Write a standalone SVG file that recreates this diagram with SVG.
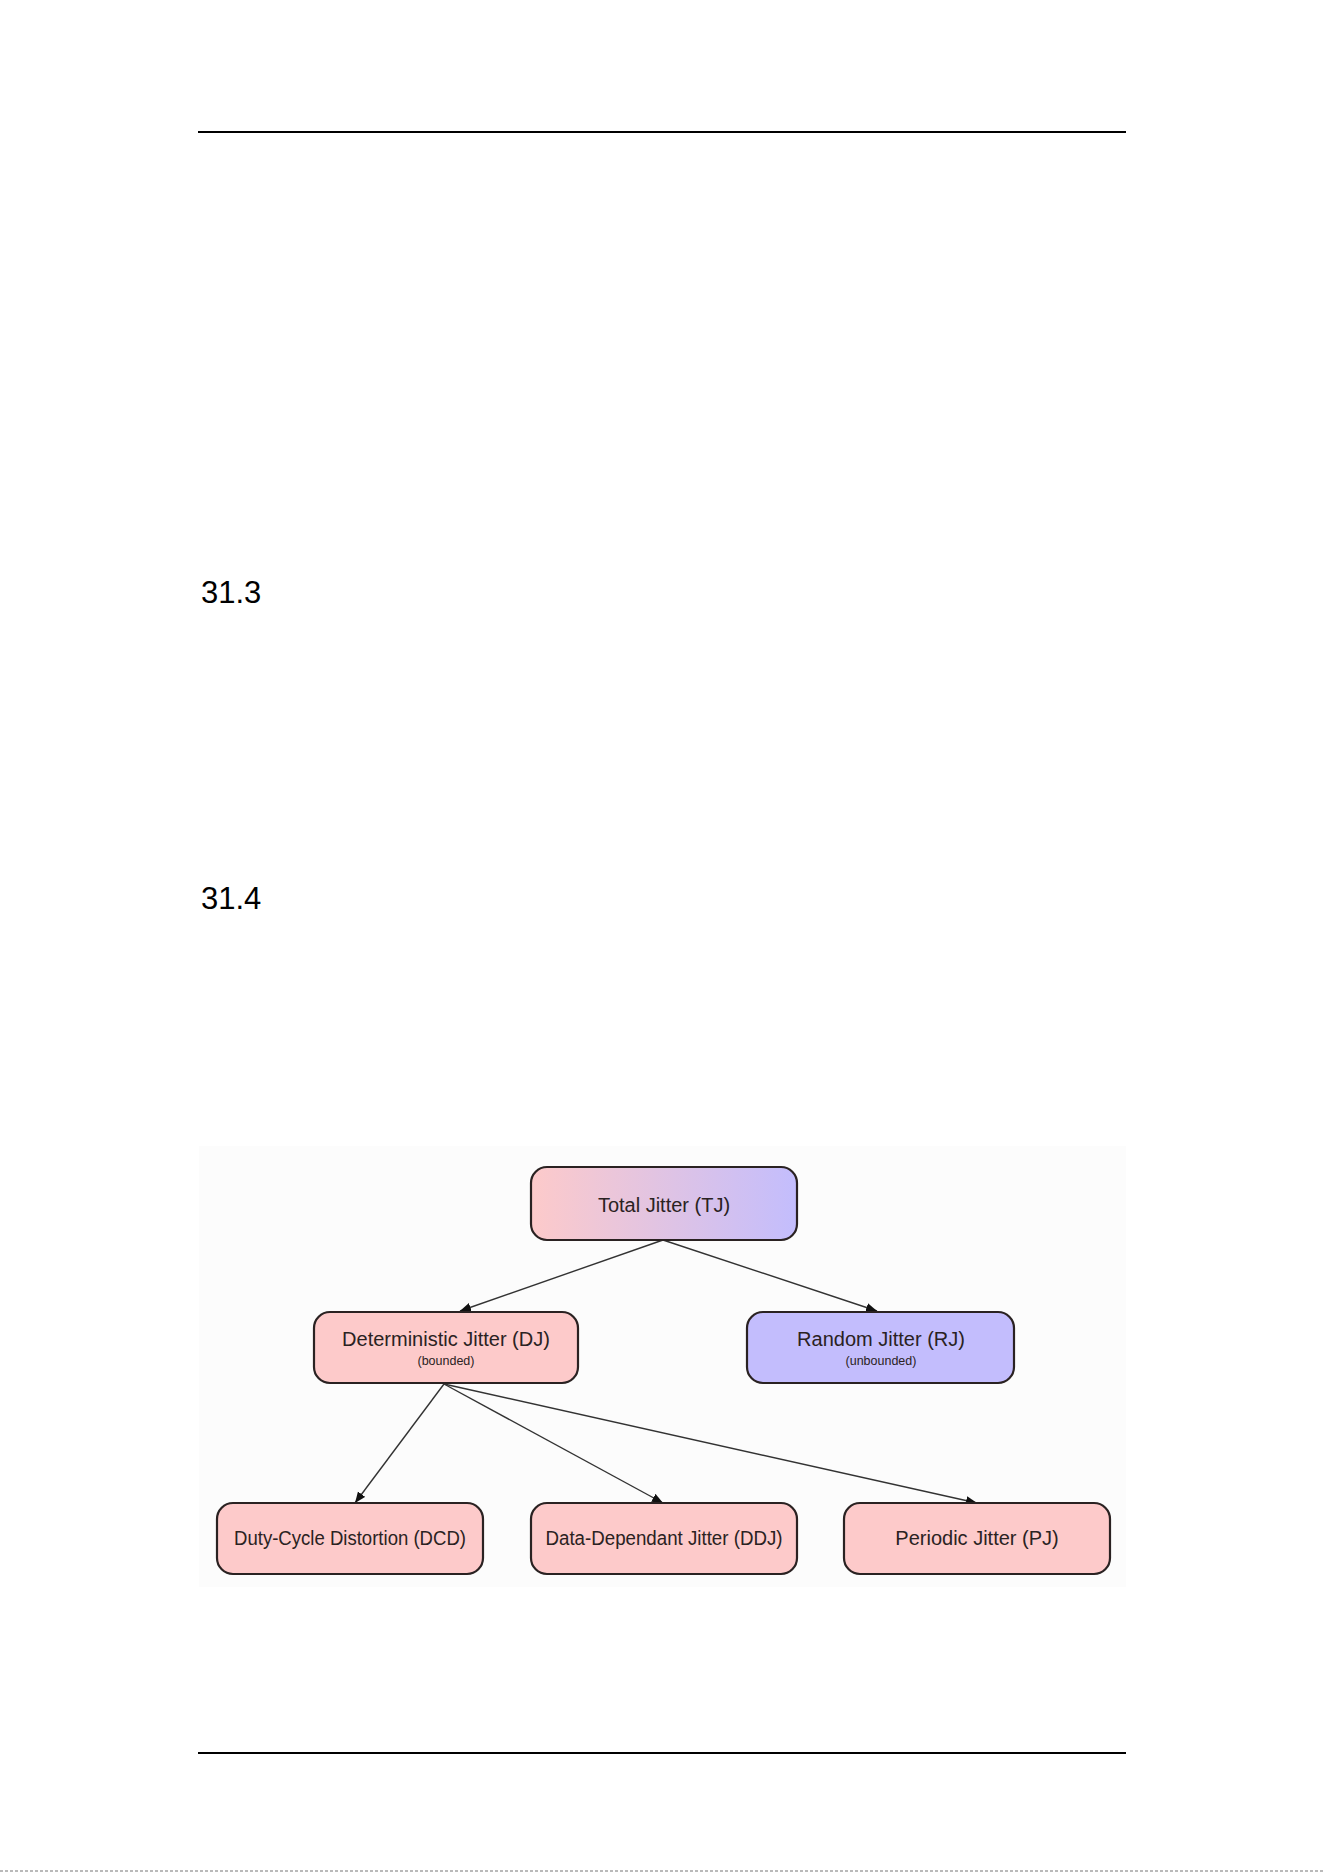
<svg xmlns="http://www.w3.org/2000/svg" width="1324" height="1872" viewBox="0 0 1324 1872">
<style>
.rule{stroke:#000;stroke-width:2.2}
.head{font-family:"Liberation Sans",Arial,sans-serif;font-size:31px;fill:#000}
.box{stroke:#2a2222;stroke-width:2.2}
.pink{fill:#fdcaca}
.blue{fill:#c3bdfd}
.lbl{font-family:"Liberation Sans",Arial,sans-serif;font-size:20px;fill:#2a2222;text-anchor:middle}
.sub{font-family:"Liberation Sans",Arial,sans-serif;font-size:12.5px;fill:#2a2222;text-anchor:middle}
.edge{stroke:#333;stroke-width:1.4;fill:none;marker-end:url(#arr)}
</style>
<defs>
<linearGradient id="tjg" x1="0" y1="0" x2="1" y2="0">
<stop offset="0" stop-color="#fdcaca"/>
<stop offset="1" stop-color="#c3bdfd"/>
</linearGradient>
<marker id="arr" markerUnits="userSpaceOnUse" markerWidth="12" markerHeight="10" refX="11" refY="4.5" orient="auto">
<path d="M0,0 L11,4.5 L0,9 z" fill="#111"/>
</marker>
</defs>
<rect width="1324" height="1872" fill="#fff"/>
<line class="rule" x1="198" y1="132" x2="1126" y2="132"/>
<text class="head" x="201" y="603">31.3</text>
<text class="head" x="201" y="909">31.4</text>
<rect x="199" y="1146" width="927" height="441" fill="#fcfcfc"/>
<g id="connectors">
<line class="edge" x1="663" y1="1240" x2="460" y2="1311"/>
<line class="edge" x1="663" y1="1240" x2="877" y2="1311"/>
<line class="edge" x1="444" y1="1384" x2="355" y2="1503"/>
<line class="edge" x1="444" y1="1384" x2="663" y2="1503"/>
<line class="edge" x1="444" y1="1384" x2="977" y2="1503"/>
</g>
<g id="tj">
<rect class="box" x="531" y="1167" width="266" height="73" rx="16" fill="url(#tjg)"/>
<text class="lbl" x="664" y="1212">Total Jitter (TJ)</text>
</g>
<g id="dj">
<rect class="box pink" x="314" y="1312" width="264" height="71" rx="16"/>
<text class="lbl" x="446" y="1346">Deterministic Jitter (DJ)</text>
<text class="sub" x="446" y="1365">(bounded)</text>
</g>
<g id="rj">
<rect class="box blue" x="747" y="1312" width="267" height="71" rx="16"/>
<text class="lbl" x="881" y="1346">Random Jitter (RJ)</text>
<text class="sub" x="881" y="1365">(unbounded)</text>
</g>
<g id="dcd">
<rect class="box pink" x="217" y="1503" width="266" height="71" rx="16"/>
<text class="lbl" x="350" y="1545" textLength="232" lengthAdjust="spacingAndGlyphs">Duty-Cycle Distortion (DCD)</text>
</g>
<g id="ddj">
<rect class="box pink" x="531" y="1503" width="266" height="71" rx="16"/>
<text class="lbl" x="664" y="1545" textLength="237" lengthAdjust="spacingAndGlyphs">Data-Dependant Jitter (DDJ)</text>
</g>
<g id="pj">
<rect class="box pink" x="844" y="1503" width="266" height="71" rx="16"/>
<text class="lbl" x="977" y="1545">Periodic Jitter (PJ)</text>
</g>
<line class="rule" x1="198" y1="1753" x2="1126" y2="1753"/>
<line x1="0" y1="1871" x2="1324" y2="1871" stroke="#777" stroke-width="1.2" stroke-dasharray="3 2"/>
</svg>
